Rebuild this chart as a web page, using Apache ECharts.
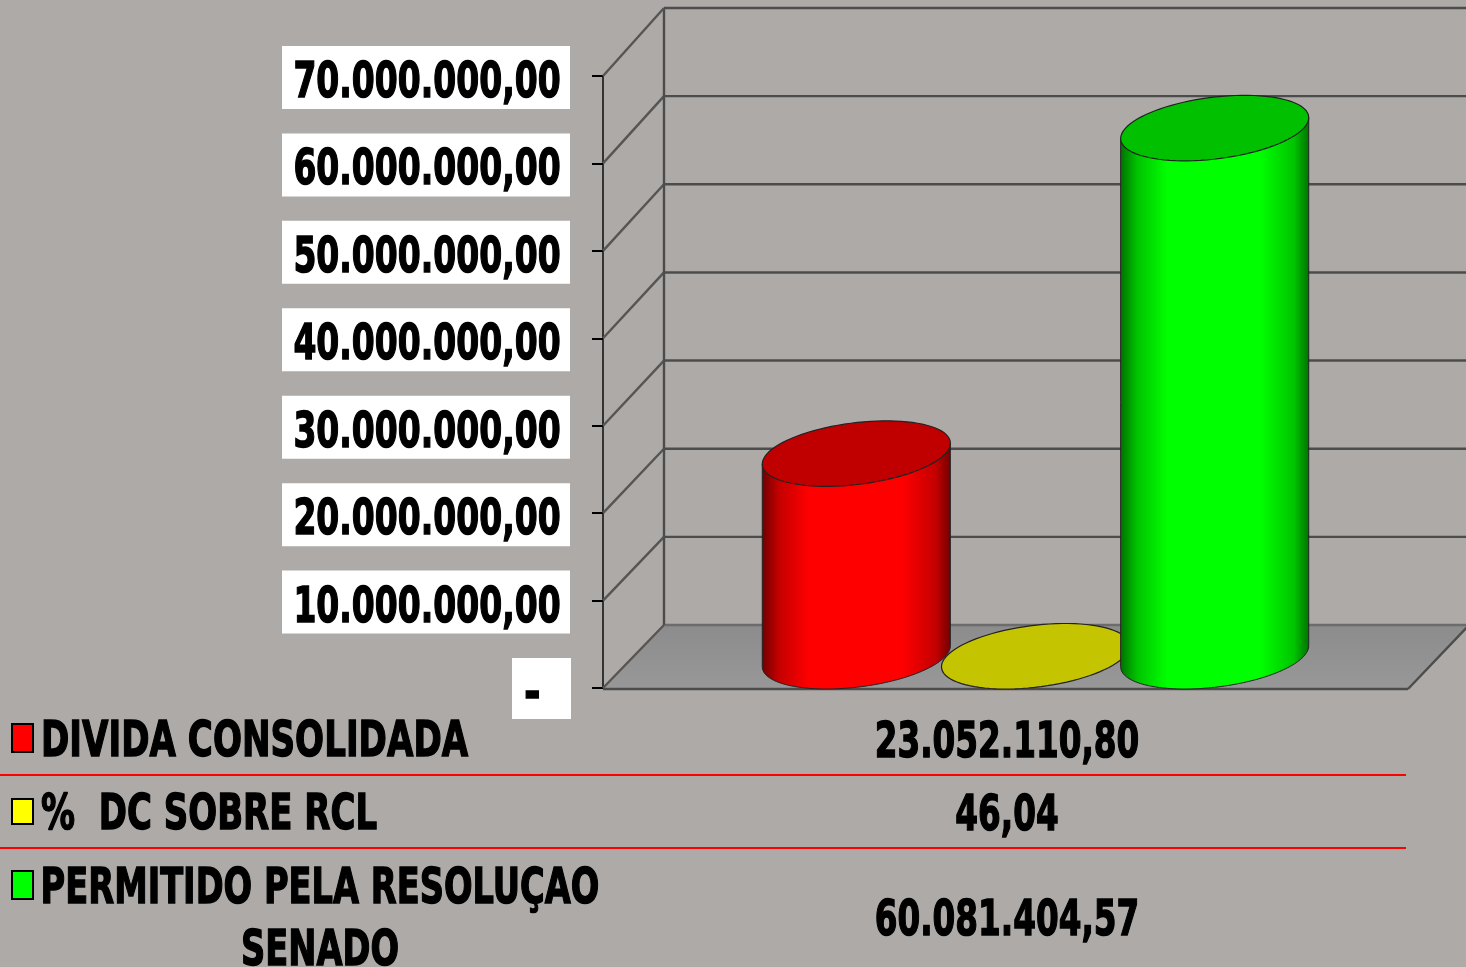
<!DOCTYPE html>
<html><head><meta charset="utf-8">
<style>html,body{margin:0;padding:0;background:#aeaaa8;overflow:hidden}#c{width:1466px;height:967px}</style>
<script src="https://cdn.jsdelivr.net/npm/echarts@6/dist/echarts.min.js"></script></head>
<body><div id="c"></div>
<script>
const seriesNames = ["DIVIDA CONSOLIDADA", "%  DC SOBRE RCL", "PERMITIDO PELA RESOLUÇAO SENADO"];
const legendLines = [["DIVIDA CONSOLIDADA"], ["%  DC SOBRE RCL"], ["PERMITIDO PELA RESOLUÇAO", "SENADO"]];
const seriesValues = [23052110.80, 46.04, 60081404.57];
const tableValues = ["23.052.110,80", "46,04", "60.081.404,57"];
const tickValues = [0, 10000000, 20000000, 30000000, 40000000, 50000000, 60000000, 70000000];
const tickLabels = ["-", "10.000.000,00", "20.000.000,00", "30.000.000,00", "40.000.000,00", "50.000.000,00", "60.000.000,00", "70.000.000,00"];
const sideColors = ["#ff0000", "#ffff00", "#00ff00"];
const sideMid = ["#c40000", "#c4c400", "#00c400"];
const sideDark = ["#700000", "#707000", "#007000"];
const topColors = ["#c00000", "#c4c400", "#00c000"];

const FONT = 'bold 50px "DejaVu Sans"';
const BG = '#aeaaa8', LINE = '#4c4c4c';
const G = echarts.graphic;
const TICK_SCALE = 0.66, LEGEND_SCALES = [0.683, 0.68, 0.673];

function txt(t, x, y, sx, align) {
  return { type: 'text', x, y: y + 3, scaleX: sx, scaleY: 1, style: { text: t, x: 0, y: 0, align: align, verticalAlign: 'middle', fill: '#000', stroke: '#000', lineWidth: 1.5, font: FONT } };
}

function frameItem(params, api) {
  const v = api.value(0), p = api.coord([0, v]), cs = params.coordSys;
  const dx = 61, dy = 63 + 5 * v / 70000000;
  const right = cs.x + cs.width, fy = p[1], by = fy - dy, lw = 2.4;
  const kids = [];
  const line = (x1, y1, x2, y2, c) => ({ type: 'line', shape: { x1, y1, x2, y2 }, style: { stroke: c || LINE, lineWidth: lw } });
  if (v === 0) {
    kids.push({ type: 'polygon', shape: { points: [[cs.x, fy + 1], [cs.x + dx, by], [right + dx, by], [right, fy + 1]] }, style: { fill: new G.LinearGradient(0, 0, 0, 1, [{ offset: 0, color: '#8c8c8c' }, { offset: 1, color: '#989898' }]) } });
    kids.push(line(right, fy + 1, right + dx, by));
    kids.push(line(cs.x, fy + 1, right, fy + 1));
  }
  if (v === 70000000) {
    kids.push(line(cs.x + dx, by, cs.x + dx, cs.y + cs.height - 63));
  }
  kids.push(line(cs.x, fy, cs.x + dx, by, '#555'));
  kids.push(line(cs.x + dx, by, right + dx, by, v === 0 ? '#6c6c6c' : LINE));
  return { type: 'group', children: kids };
}

function labelItem(params, api) {
  const v = api.value(0), p = api.coord([0, v]), cs = params.coordSys;
  const i = tickValues.indexOf(v), axisX = cs.x;
  if (v === 0) {
    return { type: 'group', children: [
      { type: 'rect', shape: { x: axisX - 91, y: p[1] - 30, width: 59, height: 61 }, style: { fill: '#fff' } },
      txt(tickLabels[i], axisX - 79, p[1] + 5, 0.8, 'left')
    ] };
  }
  return { type: 'group', children: [
    { type: 'rect', shape: { x: axisX - 321, y: p[1] - 30, width: 288, height: 63 }, style: { fill: '#fff' } },
    txt(tickLabels[i], axisX - 176, p[1] + 5, TICK_SCALE, 'center')
  ] };
}

function ellipsePts(c, W, Dx, Dy, a, b) {
  const pts = [];
  for (let i = 0; i <= 90; i++) {
    const t = a + (b - a) * i / 90;
    pts.push([c[0] + Math.cos(t) * W / 2 + Math.sin(t) * Dx / 2, c[1] - Math.sin(t) * Dy / 2]);
  }
  return pts;
}

function cylinder(idx) {
  return function (params, api) {
    const v = api.value(0), p = api.coord([0, v]), b = api.coord([0, 0]);
    const band = api.size([1, 0])[0];
    const W = band * 0.2214, Dx = 60, Dy = 65.5;
    const cx = p[0] + (idx - 1) * band * 0.2226 + Dx / 2;
    const base = b[1] + 1, py = base + (p[1] - b[1]) * 1.0055;
    const top = [cx, py - Dy / 2], bot = [cx, base - Dy / 2];
    const t0 = Math.atan2(Dx / 2, W / 2);
    const lower = ellipsePts(bot, W, Dx, Dy, t0 + Math.PI, t0 + 2 * Math.PI);
    const tl = ellipsePts(top, W, Dx, Dy, t0 + Math.PI, t0 + Math.PI)[0];
    const tr = ellipsePts(top, W, Dx, Dy, t0, t0)[0];
    const s = sideColors[idx], m = sideMid[idx], d = sideDark[idx];
    const kids = [];
    if (idx !== 1) {
      kids.push({ type: 'polygon', shape: { points: [tl].concat(lower, [tr]) }, style: {
        fill: new G.LinearGradient(0, 0, 1, 0, [{ offset: 0, color: d }, { offset: 0.09, color: m }, { offset: 0.25, color: s }, { offset: 0.74, color: s }, { offset: 0.92, color: m }, { offset: 1, color: d }]),
        stroke: '#222', lineWidth: 1 } });
    }
    kids.push({ type: 'polygon', shape: { points: ellipsePts(top, W, Dx, Dy, 0, 2 * Math.PI) }, style: { fill: topColors[idx], stroke: '#222', lineWidth: 1.2 } });
    return { type: 'group', children: kids };
  };
}

function legendFor(i, top, h) {
  return {
    data: [{ name: seriesNames[i], icon: 'rect', itemStyle: { color: sideColors[i], borderColor: '#000', borderWidth: 2 } }],
    left: 11, top, itemWidth: 21, itemHeight: h, itemGap: 0, selectedMode: false, padding: 0,
    formatter: () => ''
  };
}

const rowY = [741, 814, 919];
const legendY = [[737], [810], [884, 946]];
const legendX = [41, 41, 320];
const graphics = [775, 848].map(y => ({ type: 'line', shape: { x1: 0, y1: y, x2: 1406, y2: y }, style: { stroke: '#ff0000', lineWidth: 2 }, z: 5 }))
  .concat(tableValues.map((t, i) => Object.assign(txt(t, 1007, rowY[i], TICK_SCALE * 0.99, 'center'), { z: 5 })));
legendLines.forEach((lines, i) => lines.forEach((t, j) => {
  graphics.push(Object.assign(txt(t, legendX[i], legendY[i][j] + 3, LEGEND_SCALES[i], i === 2 ? 'center' : 'left'), { z: 5 }));
}));

const chart = echarts.init(document.getElementById('c'), null, { renderer: 'canvas' });
chart.setOption({
  animation: false,
  backgroundColor: BG,
  grid: { left: 603, right: 58, top: 76, bottom: 279 },
  legend: [legendFor(0, 723, 28), legendFor(1, 798, 25), legendFor(2, 870, 28)],
  xAxis: { type: 'category', data: [''], axisLine: { show: false }, axisTick: { show: false }, axisLabel: { show: false } },
  yAxis: {
    type: 'value', min: 0, max: 70000000, interval: 10000000,
    splitLine: { show: false },
    axisLine: { show: true, lineStyle: { color: '#333', width: 2 } },
    axisTick: { show: true, length: 11, lineStyle: { color: '#000', width: 2 } },
    axisLabel: { show: false }
  },
  graphic: graphics,
  series: [
    { type: 'custom', name: 'grade', coordinateSystem: 'cartesian2d', clip: false, z: 1, silent: true, renderItem: frameItem, encode: { y: 0 }, data: tickValues.map(v => [v]) },
    { type: 'custom', name: 'rotulos', coordinateSystem: 'cartesian2d', clip: false, z: 2, silent: true, renderItem: labelItem, encode: { y: 0 }, data: tickValues.map(v => [v]) }
  ].concat(seriesNames.map((n, i) => ({
    type: 'custom', name: n, coordinateSystem: 'cartesian2d', clip: false, z: 3 + i, renderItem: cylinder(i), encode: { y: 0 },
    itemStyle: { color: sideColors[i] }, data: [[seriesValues[i]]]
  })))
});
</script></body></html>
